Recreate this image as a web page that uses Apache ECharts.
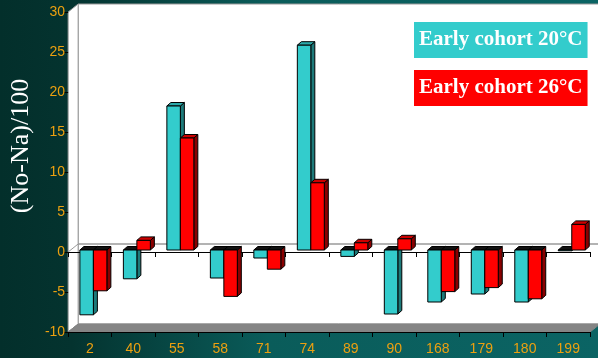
<!DOCTYPE html>
<html>
<head>
<meta charset="utf-8">
<script src="https://cdn.jsdelivr.net/npm/echarts@6/dist/echarts.min.js"></script>
<style>
  html, body { margin: 0; padding: 0; }
  #chart { width: 598px; height: 358px; }
</style>
</head>
<body>
<div id="chart"></div>
<script>
// Categories along the bottom axis
const categories = ['2', '40', '55', '58', '71', '74', '89', '90', '168', '179', '180', '199'];
// (No-Na)/100 for each cohort
const cohort20 = [-8.1, -3.6, 18.0, -3.5, -1.0, 25.6, -0.8, -8.0, -6.5, -5.5, -6.5, -0.1];
const cohort26 = [-5.1, 1.2, 14.0, -5.8, -2.4, 8.4, 0.9, 1.4, -5.2, -4.7, -6.1, 3.2];
const seriesNames = ['Early cohort 20°C', 'Early cohort 26°C'];
const yTicks = { min: -10, max: 30, step: 5 };

// Oblique projection used for the box walls and the bars
const WALL = { dx: 10, dy: -8 };       // full depth of the chart box
const BAR_DEPTH_POS = 0.25;            // bars stand this far into the box
const BAR_SIDE = { dx: 4, dy: -3.5 };  // thickness of each bar

const palette = [
  { front: '#33CCCC', side: '#1d7a7a', top: '#2aa9a9' },
  { front: '#FF0000', side: '#8a0000', top: '#cc0000' }
];

const chart = echarts.init(document.getElementById('chart'));

function frameRenderer(params, api) {
  const cs = params.coordSys;
  const x0 = cs.x, x1 = cs.x + cs.width, y0 = cs.y, y1 = cs.y + cs.height;
  const z0 = api.coord([0, 0])[1];
  const dx = WALL.dx, dy = WALL.dy;
  const grey = '#9a9a9a';
  return {
    type: 'group',
    children: [
      { type: 'polygon', shape: { points: [[x0 + dx, y0 + dy], [x1 + dx, y0 + dy], [x1 + dx, y1 + dy], [x0 + dx, y1 + dy]] },
        style: { fill: '#ffffff', stroke: grey, lineWidth: 1 } },
      { type: 'polygon', shape: { points: [[x0, y0], [x0 + dx, y0 + dy], [x0 + dx, y1 + dy], [x0, y1]] },
        style: { fill: '#ffffff', stroke: grey, lineWidth: 1 } },
      { type: 'polygon', shape: { points: [[x0, y1], [x1, y1], [x1 + dx, y1 + dy], [x0 + dx, y1 + dy]] },
        style: { fill: '#858585', stroke: '#858585', lineWidth: 1 } },
      { type: 'line', shape: { x1: x0 + dx, y1: z0 + dy, x2: x1 + dx, y2: z0 + dy },
        style: { stroke: grey, lineWidth: 1.5 } },
      { type: 'line', shape: { x1: x0, y1: z0, x2: x0 + dx, y2: z0 + dy },
        style: { stroke: grey, lineWidth: 1 } }
    ]
  };
}

function barRenderer(idx) {
  const col = palette[idx];
  return function (params, api) {
    const cat = api.value(0), v = api.value(1);
    const band = api.size([1, 0])[0];
    const w = band * 0.31;
    const sx = WALL.dx * BAR_DEPTH_POS, sy = WALL.dy * BAR_DEPTH_POS;
    const c = api.coord([cat, 0]);
    const cv = api.coord([cat, v]);
    const left = c[0] + 1 + (idx === 0 ? -w : 0) + sx;
    const right = left + w;
    const yZero = c[1] + sy, yVal = cv[1] + sy;
    const yTop = Math.min(yZero, yVal), yBot = Math.max(yZero, yVal);
    const bdx = BAR_SIDE.dx, bdy = BAR_SIDE.dy;
    const stroke = { stroke: '#000', lineWidth: 1, lineJoin: 'round' };
    const topFill = v >= 0 ? col.top : '#111111';
    return {
      type: 'group',
      children: [
        { type: 'polygon', shape: { points: [[right, yTop], [right + bdx, yTop + bdy], [right + bdx, yBot + bdy], [right, yBot]] },
          style: Object.assign({ fill: col.side }, stroke) },
        { type: 'polygon', shape: { points: [[left, yTop], [right, yTop], [right + bdx, yTop + bdy], [left + bdx, yTop + bdy]] },
          style: Object.assign({ fill: topFill }, stroke) },
        { type: 'rect', shape: { x: left, y: yTop, width: w, height: yBot - yTop },
          style: Object.assign({ fill: col.front }, stroke) }
      ]
    };
  };
}

const tickColor = '#ECA010';

const option = {
  animation: false,
  backgroundColor: {
    type: 'linear', x: 0, y: 0, x2: 1, y2: 0,
    colorStops: [
      { offset: 0, color: '#032f2b' },
      { offset: 0.12, color: '#04332f' },
      { offset: 0.45, color: '#0a5c5a' },
      { offset: 1, color: '#0b6464' }
    ]
  },
  grid: { left: 67, right: 8, top: 12, bottom: 26 },
  legend: {
    orient: 'vertical',
    left: 409,
    top: 22,
    padding: 0,
    itemGap: 12,
    itemWidth: 0,
    itemHeight: 0,
    icon: 'none',
    selectedMode: false,
    textStyle: {
      color: '#ffffff', fontFamily: 'Liberation Serif', fontWeight: 'bold',
      fontSize: 21, lineHeight: 24, padding: [6, 5, 6, 5]
    },
    data: [
      { name: seriesNames[0], textStyle: { backgroundColor: palette[0].front } },
      { name: seriesNames[1], textStyle: { backgroundColor: palette[1].front } }
    ]
  },
  xAxis: [
    {
      type: 'category', data: categories, position: 'bottom', z: 6,
      axisLine: { onZero: false, lineStyle: { color: '#000', width: 1 } },
      axisTick: { show: true, length: 5, lineStyle: { color: '#000' } },
      axisLabel: { color: tickColor, fontFamily: 'Liberation Sans', fontSize: 14, margin: 10 },
      splitLine: { show: false }
    },
    {
      type: 'category', data: categories, position: 'top', z: 2,
      axisLine: { onZero: true, lineStyle: { color: '#000', width: 1 } },
      axisTick: { show: true, inside: true, length: 5, lineStyle: { color: '#000' } },
      axisLabel: { show: false },
      splitLine: { show: false }
    }
  ],
  yAxis: {
    type: 'value', min: yTicks.min, max: yTicks.max, interval: yTicks.step, z: 6,
    name: '(No-Na)/100',
    nameLocation: 'middle',
    nameGap: 30,
    nameTextStyle: { color: '#ffffff', fontFamily: 'Liberation Serif', fontSize: 26, padding: [0, 0, 0, 52] },
    axisLine: { show: false },
    axisTick: { show: true, length: 5, lineStyle: { color: '#000' } },
    axisLabel: { color: tickColor, fontFamily: 'Liberation Sans', fontSize: 14, margin: 3 },
    splitLine: { show: false }
  },
  series: [
    { type: 'custom', name: 'frame', z: 1, silent: true, renderItem: frameRenderer, data: [[0, 0]], xAxisIndex: 0 },
    { type: 'custom', name: seriesNames[0], z: 3, renderItem: barRenderer(0),
      data: cohort20.map((v, i) => [i, v]), encode: { x: 0, y: 1 } },
    { type: 'custom', name: seriesNames[1], z: 3, renderItem: barRenderer(1),
      data: cohort26.map((v, i) => [i, v]), encode: { x: 0, y: 1 } }
  ]
};

chart.setOption(option);
</script>
</body>
</html>
